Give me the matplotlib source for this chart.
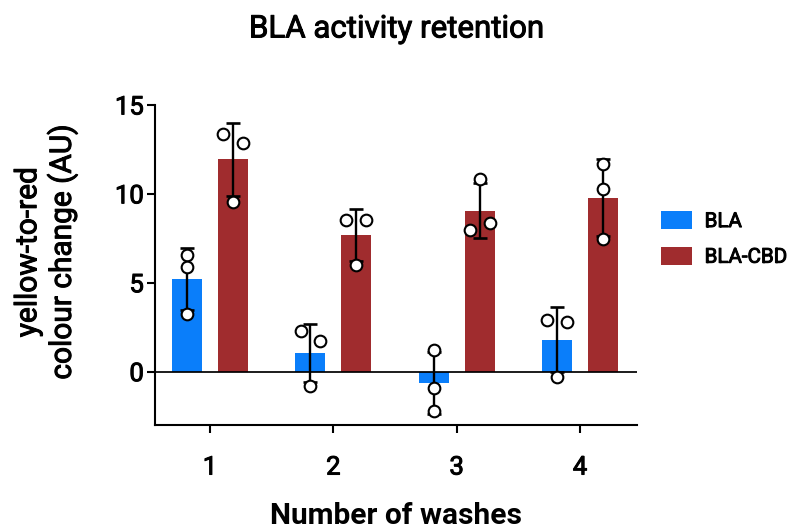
import numpy as np
import matplotlib
matplotlib.use("Agg")
import matplotlib.pyplot as plt
from matplotlib.patches import Patch
import matplotlib.patheffects as pe

plt.rcParams['font.family'] = ['Roboto', 'DejaVu Sans']

# Replicate measurements per wash count
washes = [1, 2, 3, 4]
series_names = ["BLA", "BLA-CBD"]
bla_points = [
    [6.54, 5.88, 3.25],
    [2.27, 1.71, -0.79],
    [1.24, -0.92, -2.24],
    [2.88, 2.82, -0.28],
]
cbd_points = [
    [13.37, 12.88, 9.55],
    [8.55, 8.55, 6.02],
    [10.81, 7.99, 8.36],
    [11.68, 10.25, 7.45],
]
# horizontal scatter of replicate dots within a bar (fraction of bar width)
bla_jitter = [[0, 0, 0], [-0.33, 0.33, 0], [0, 0, 0], [-0.33, 0.33, 0]]
cbd_jitter = [[-0.33, 0.33, 0], [-0.33, 0.33, 0], [0, -0.33, 0.33], [0, 0, 0]]

colors = ["#0A7EFA", "#A02C2E"]
offset = 0.186
width = 0.243

# slightly heavier strokes for the medium-weight labels
medium = [pe.Stroke(linewidth=0.7, foreground='black'), pe.Normal()]

fig = plt.figure(figsize=(7.93, 5.29), dpi=100)
ax = fig.add_axes([0.1955, 0.1966, 0.6075, 0.605])

x = np.arange(1, len(washes) + 1)
for pts, jit, col, sign in [(bla_points, bla_jitter, colors[0], -1),
                            (cbd_points, cbd_jitter, colors[1], 1)]:
    arr = np.array(pts)
    means = arr.mean(axis=1)
    sds = arr.std(axis=1, ddof=1)
    xs = x + sign * offset
    ax.bar(xs, means, width=width, color=col, edgecolor='none', zorder=2)
    ax.errorbar(xs, means, yerr=sds, fmt='none', ecolor='black',
                elinewidth=1.7, capsize=5, capthick=1.9, zorder=3)
    for i in range(len(xs)):
        ax.plot(xs[i] + np.array(jit[i]) * width, arr[i], 'o', ms=8.4,
                mfc='white', mec='black', mew=1.5, zorder=4, linestyle='none')

ax.axhline(0, color='black', lw=1.25, zorder=2.5)

ax.set_xlim(0.554, 4.46)
ax.set_ylim(-3, 15)
ax.set_yticks([0, 5, 10, 15])
ax.set_xticks(x)
ax.set_xticklabels([str(w) for w in washes])

for s in ['top', 'right']:
    ax.spines[s].set_visible(False)
for s in ['left', 'bottom']:
    ax.spines[s].set_linewidth(1.5)
ax.tick_params(axis='both', width=1.5, length=5.5, labelsize=18.5)
ax.tick_params(axis='x', pad=16.5)
ax.tick_params(axis='y', pad=2.5)
for lbl in ax.get_xticklabels() + ax.get_yticklabels():
    lbl.set_path_effects(medium)

ax.set_xlabel("Number of washes", fontsize=21.5, fontweight='bold', labelpad=16.5)

fig.text(46 / 793, 1 - 252 / 529, "yellow-to-red\ncolour change (AU)",
         rotation=90, ha='center', va='center', multialignment='center',
         fontsize=21.5, linespacing=1.2, path_effects=medium)

fig.text(0.5, 1 - 29 / 529, "BLA activity retention", ha='center', va='center',
         fontsize=22.5, path_effects=medium)

handles = [Patch(facecolor=c, edgecolor='none') for c in colors]
leg = fig.legend(handles, series_names, loc='upper left',
                 bbox_to_anchor=(661 / 793, 1 - 211 / 529), frameon=False,
                 prop={'size': 14.8}, borderpad=0,
                 handlelength=1.5, handleheight=0.97, labelspacing=0.76,
                 handletextpad=0.62, borderaxespad=0)
for t in leg.get_texts():
    t.set_path_effects(medium)

fig.savefig("out.png", dpi=100)
